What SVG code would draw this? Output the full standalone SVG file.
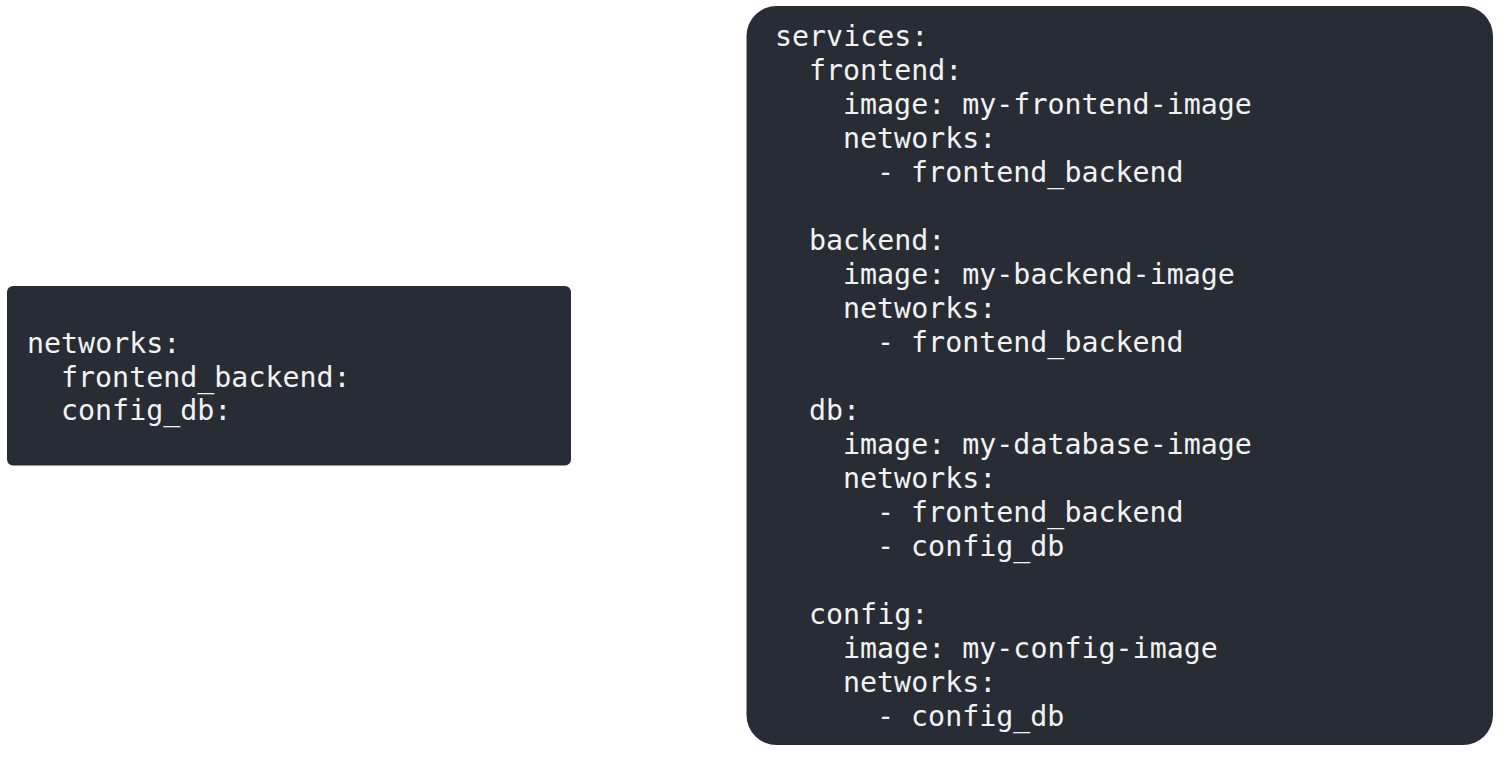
<svg xmlns="http://www.w3.org/2000/svg" width="1510" height="758" viewBox="0 0 1510 758">
<style>
.box{fill:#282c34}
.code{font-family:"DejaVu Sans Mono","Liberation Mono",monospace;font-size:28.3px;fill:#f2f2f2}
</style>
<rect width="1510" height="758" fill="#ffffff"/>
<g id="networks-node">
<rect class="box" x="7" y="286" width="564" height="179.5" rx="6"/>
<text class="code">
<tspan x="27" y="353">networks:</tspan>
<tspan x="61" y="386.5">frontend_backend:</tspan>
<tspan x="61" y="420">config_db:</tspan>
</text>
</g>
<g id="services-node">
<rect class="box" x="746.5" y="6" width="746.5" height="739" rx="30"/>
<text class="code">
<tspan x="775" y="46">services:</tspan>
<tspan x="809" y="80">frontend:</tspan>
<tspan x="843" y="114">image: my-frontend-image</tspan>
<tspan x="843" y="148">networks:</tspan>
<tspan x="877" y="182">- frontend_backend</tspan>
<tspan x="809" y="250">backend:</tspan>
<tspan x="843" y="284">image: my-backend-image</tspan>
<tspan x="843" y="318">networks:</tspan>
<tspan x="877" y="352">- frontend_backend</tspan>
<tspan x="809" y="420">db:</tspan>
<tspan x="843" y="454">image: my-database-image</tspan>
<tspan x="843" y="488">networks:</tspan>
<tspan x="877" y="522">- frontend_backend</tspan>
<tspan x="877" y="556">- config_db</tspan>
<tspan x="809" y="624">config:</tspan>
<tspan x="843" y="658">image: my-config-image</tspan>
<tspan x="843" y="692">networks:</tspan>
<tspan x="877" y="726">- config_db</tspan>
</text>
</g>
<g id="connectors"></g>
</svg>
